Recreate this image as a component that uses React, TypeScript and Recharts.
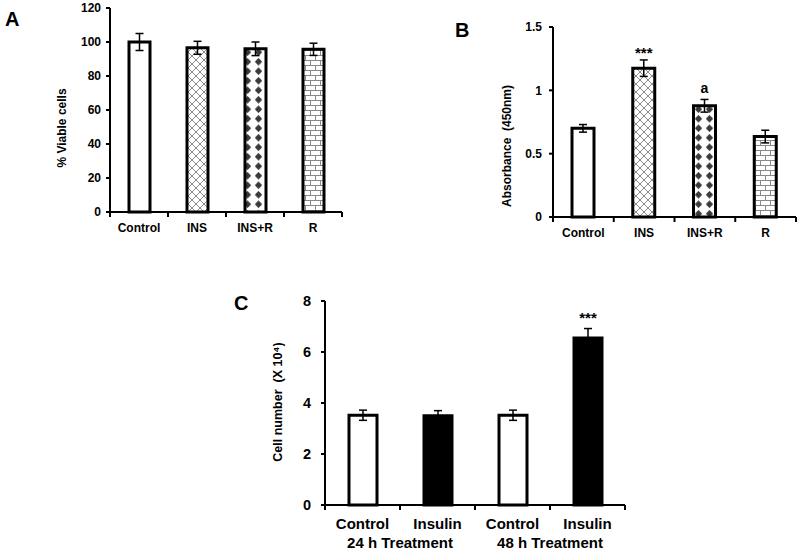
import React from "react";
import { BarChart, Bar, Cell, XAxis, YAxis, ErrorBar, LabelList } from "recharts";

// panel A - viability
const treatments = ["Control", "INS", "INS+R", "R"];
const viableCells = [100, 96.6, 96, 95.7];
const viableErr = [5, 3.8, 4, 3.6];
const viableTicks = [0, 20, 40, 60, 80, 100, 120];

// panel B - absorbance
const absorbance = [0.7, 1.175, 0.878, 0.635];
const absorbanceErr = [0.03, 0.065, 0.05, 0.05];
const absorbanceStars = ["", "***", "", ""];
const absorbanceLetter = ["", "", "a", ""];
const absorbanceTicks = [0, 0.5, 1, 1.5];

// panel C - cell number
const cellGroups = ["Control", "Insulin", "Control", "Insulin"];
const cellTimes = ["24 h Treatment", "48 h Treatment"];
const cellNumber = [3.52, 3.5, 3.52, 6.55];
const cellErr = [0.2, 0.2, 0.2, 0.37];
const cellStars = ["", "", "", "***"];
const cellTicks = [0, 2, 4, 6, 8];

const patternFills = ["#ffffff", "url(#hatch)", "url(#diamond)", "url(#brick)"];
const cellFills = ["#ffffff", "#000000", "#ffffff", "#000000"];

const FONT = "'Liberation Sans', Arial, sans-serif";

const dataA = treatments.map((name, i) => ({ name, value: viableCells[i], err: viableErr[i] }));
const dataB = treatments.map((name, i) => ({
  name,
  value: absorbance[i],
  err: absorbanceErr[i],
  stars: absorbanceStars[i],
  letter: absorbanceLetter[i],
}));
const dataC = cellGroups.map((name, i) => ({ name, value: cellNumber[i], err: cellErr[i], stars: cellStars[i] }));

function CategoryTick(props: any) {
  const { x, y, payload, index, band, labelSize, labelOffset, count, groups, groupOffset } = props;
  return (
    <g>
      <line x1={x - band / 2} y1={y} x2={x - band / 2} y2={y + 5} stroke="#000" strokeWidth={2} />
      {index === count - 1 && (
        <line x1={x + band / 2} y1={y} x2={x + band / 2} y2={y + 5} stroke="#000" strokeWidth={2} />
      )}
      <text x={x} y={y + labelOffset} textAnchor="middle" fontSize={labelSize} fontWeight="bold" fill="#000" fontFamily={FONT}>
        {payload.value}
      </text>
      {groups && index % 2 === 0 && (
        <text
          x={x + band / 2}
          y={y + groupOffset}
          textAnchor="middle"
          fontSize={labelSize}
          fontWeight="bold"
          fill="#000"
          fontFamily={FONT}
        >
          {groups[Math.floor(index / 2)]}
        </text>
      )}
    </g>
  );
}

const axisLine = { stroke: "#000", strokeWidth: 2 };

function PanelA() {
  const W = 360, H = 250;
  const margin = { top: 8, right: 18, left: 50, bottom: 8 };
  const yW = 60;
  const band = (W - margin.left - margin.right - yW) / dataA.length;
  return (
    <div style={{ position: "absolute", left: 0, top: 0 }}>
      <BarChart width={W} height={H} data={dataA} margin={margin}>
        <XAxis
          dataKey="name"
          height={30}
          axisLine={axisLine}
          tickLine={false}
          tickSize={0}
          tickMargin={0}
          interval={0}
          tick={<CategoryTick band={band} count={dataA.length} labelSize={12} labelOffset={20} />}
        />
        <YAxis
          width={yW}
          domain={[0, 120]}
          ticks={viableTicks}
          interval={0}
          axisLine={axisLine}
          tickLine={axisLine}
          tickSize={4}
          tickMargin={5}
          tick={{ fill: "#000", fontSize: 12, fontWeight: "bold", fontFamily: FONT }}
          label={{
            value: "% Viable cells",
            angle: -90,
            position: "center",
            dx: -18,
            dy: 18,
            style: { fill: "#000", fontSize: 12, fontWeight: "bold", fontFamily: FONT },
          }}
        />
        <Bar dataKey="value" barSize={21} stroke="#000" strokeWidth={3} isAnimationActive={false}>
          {dataA.map((d, i) => (
            <Cell key={d.name} fill={patternFills[i]} />
          ))}
          <ErrorBar dataKey="err" width={4} stroke="#000" strokeWidth={1.5} />
        </Bar>
      </BarChart>
    </div>
  );
}

function PanelB() {
  const W = 360, H = 260;
  const margin = { top: 27, right: 4, left: 63, bottom: 13 };
  const yW = 50;
  const band = (W - margin.left - margin.right - yW) / dataB.length;
  return (
    <div style={{ position: "absolute", left: 440, top: 0 }}>
      <BarChart width={W} height={H} data={dataB} margin={margin}>
        <XAxis
          dataKey="name"
          height={30}
          axisLine={axisLine}
          tickLine={false}
          tickSize={0}
          tickMargin={0}
          interval={0}
          tick={<CategoryTick band={band} count={dataB.length} labelSize={12} labelOffset={20} />}
        />
        <YAxis
          width={yW}
          domain={[0, 1.5]}
          ticks={absorbanceTicks}
          interval={0}
          axisLine={axisLine}
          tickLine={axisLine}
          tickSize={4}
          tickMargin={7}
          tick={{ fill: "#000", fontSize: 12, fontWeight: "bold", fontFamily: FONT }}
          label={{
            value: "Absorbance\u00a0 (450nm)",
            angle: -90,
            position: "center",
            dx: -21,
            dy: 24,
            style: { fill: "#000", fontSize: 12, fontWeight: "bold", fontFamily: FONT },
          }}
        />
        <Bar dataKey="value" barSize={22} stroke="#000" strokeWidth={3} isAnimationActive={false}>
          {dataB.map((d, i) => (
            <Cell key={d.name} fill={patternFills[i]} />
          ))}
          <ErrorBar dataKey="err" width={4} stroke="#000" strokeWidth={1.5} />
          <LabelList dataKey="stars" position="top" offset={10} fill="#000" fontSize={15} fontWeight="bold" fontFamily={FONT} />
          <LabelList dataKey="letter" position="top" offset={13} fill="#000" fontSize={14} fontWeight="bold" fontFamily={FONT} />
        </Bar>
      </BarChart>
    </div>
  );
}

function PanelC() {
  const W = 420, H = 272;
  const margin = { top: 21, right: 15, left: 55, bottom: 2 };
  const yW = 50;
  const band = (W - margin.left - margin.right - yW) / dataC.length;
  return (
    <div style={{ position: "absolute", left: 220, top: 280 }}>
      <BarChart width={W} height={H} data={dataC} margin={margin}>
        <XAxis
          dataKey="name"
          height={45}
          axisLine={axisLine}
          tickLine={false}
          tickSize={0}
          tickMargin={0}
          interval={0}
          tick={
            <CategoryTick
              band={band}
              count={dataC.length}
              labelSize={15}
              labelOffset={24}
              groups={cellTimes}
              groupOffset={43}
            />
          }
        />
        <YAxis
          width={yW}
          domain={[0, 8]}
          ticks={cellTicks}
          interval={0}
          axisLine={axisLine}
          tickLine={axisLine}
          tickSize={4}
          tickMargin={10}
          tick={{ fill: "#000", fontSize: 14.5, fontWeight: "bold", fontFamily: FONT }}
          label={{
            value: "Cell number\u00a0 (X 10\u2074)",
            angle: -90,
            position: "center",
            dx: -22,
            dy: -1,
            style: { fill: "#000", fontSize: 12.5, fontWeight: "bold", fontFamily: FONT },
          }}
        />
        <Bar dataKey="value" barSize={28} stroke="#000" strokeWidth={3} isAnimationActive={false}>
          {dataC.map((d, i) => (
            <Cell key={i} fill={cellFills[i]} />
          ))}
          <ErrorBar dataKey="err" width={4} stroke="#000" strokeWidth={1.5} />
          <LabelList dataKey="stars" position="top" offset={15} fill="#000" fontSize={15} fontWeight="bold" fontFamily={FONT} />
        </Bar>
      </BarChart>
    </div>
  );
}

export default function App() {
  return (
    <div style={{ position: "absolute", left: 0, top: 0, width: 800, height: 552, background: "#fff", fontFamily: FONT }}>
      <svg width={800} height={552} style={{ position: "absolute", left: 0, top: 0 }}>
        <defs>
          <pattern id="hatch" width={8} height={8} patternUnits="userSpaceOnUse">
            <rect width={8} height={8} fill="#fff" />
            <path d="M0,0 L8,8 M8,0 L0,8" stroke="#8a8a8a" strokeWidth={1} />
          </pattern>
          <pattern id="diamond" width={11} height={9.5} patternUnits="userSpaceOnUse">
            <rect width={11} height={9.5} fill="#fff" />
            <path d="M5.5,1 L9.2,4.75 L5.5,8.5 L1.8,4.75 Z" fill="#3a3a3a" />
          </pattern>
          <pattern id="brick" width={10} height={10} patternUnits="userSpaceOnUse">
            <rect width={10} height={10} fill="#fff" />
            <path d="M0,0.5 H10 M0,5.5 H10 M0.5,0 V5 M5.5,5 V10" stroke="#888" strokeWidth={1} />
          </pattern>
        </defs>
        <text x={5} y={26} fontSize={20} fontWeight="bold" fill="#000" fontFamily={FONT}>A</text>
        <text x={455} y={37} fontSize={20} fontWeight="bold" fill="#000" fontFamily={FONT}>B</text>
        <text x={234} y={310} fontSize={20} fontWeight="bold" fill="#000" fontFamily={FONT}>C</text>
      </svg>
      <PanelA />
      <PanelB />
      <PanelC />
    </div>
  );
}
